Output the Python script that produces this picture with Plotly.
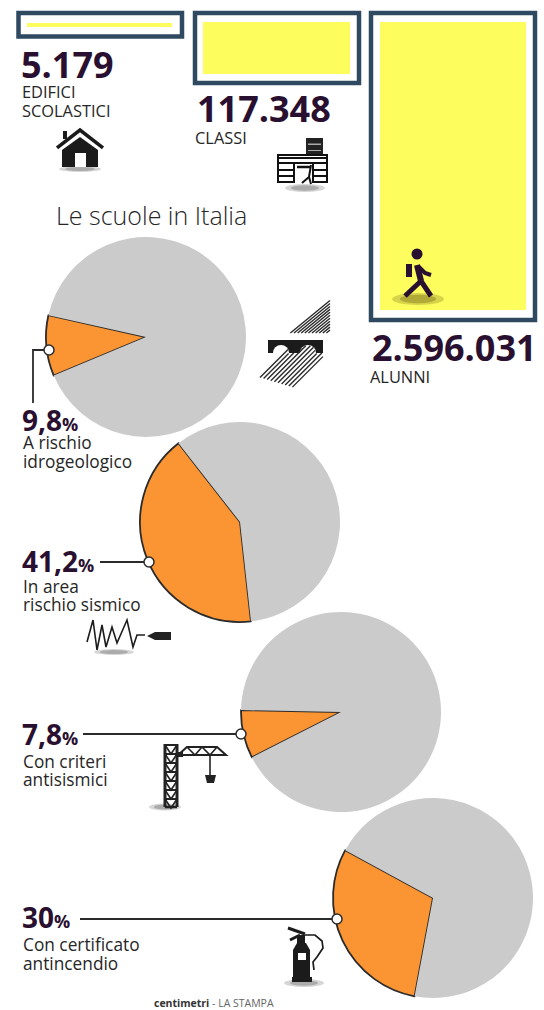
import plotly.graph_objects as go

# ---- data ----
total_labels = ["5.179", "117.348", "2.596.031"]
total_values = [5179, 117348, 2596031]
total_names = [["EDIFICI", "SCOLASTICI"], ["CLASSI"], ["ALUNNI"]]

share_labels = ["9,8", "41,2", "7,8", "30"]
share_values = [9.8, 41.2, 7.8, 30.0]
share_rest = [90.2, 58.8, 92.2, 70.0]
share_names = [["A rischio", "idrogeologico"], ["In area", "rischio sismico"],
               ["Con criteri", "antisismici"], ["Con certificato", "antincendio"]]

W, H = 544, 1010
INK = "#2a1030"
TXT = "#262626"
LINE = "#2b2b2b"
ORANGE = "#fb9433"
GREY = "#cbcbcb"
YELLOW = "#fdfd5e"
FRAME = "#2f4a60"
DARK = "#1b1b1b"
FONT = "Open Sans"


def px(x):
    return x / W


def py(y):
    return 1 - y / H


fig = go.Figure()
shapes = []
notes = []


def text(x, y, s, size, color=TXT, weight=400, family=FONT):
    notes.append(dict(x=px(x), y=py(y), xref="paper", yref="paper", text=s, showarrow=False,
                      xanchor="left", yanchor="middle", align="left", borderpad=0,
                      font=dict(size=size, color=color, family=family, weight=weight)))


def poly(points, fill=None, color=None, width=0, closed=True):
    d = "M " + " L ".join(f"{px(x):.5f} {py(y):.5f}" for x, y in points)
    if closed:
        d += " Z"
    shapes.append(dict(type="path", xref="paper", yref="paper", path=d, layer="above",
                       fillcolor=fill if fill else "rgba(0,0,0,0)",
                       line=dict(color=color if color else "rgba(0,0,0,0)", width=width)))


def rect(x0, y0, x1, y1, fill=None, color=None, width=0):
    shapes.append(dict(type="rect", xref="paper", yref="paper", layer="above",
                       x0=px(x0), x1=px(x1), y0=py(y0), y1=py(y1),
                       fillcolor=fill if fill else "rgba(0,0,0,0)",
                       line=dict(color=color if color else "rgba(0,0,0,0)", width=width)))


def ellipse(cx, cy, rx, ry, fill=None, color=None, width=0):
    shapes.append(dict(type="circle", xref="paper", yref="paper", layer="above",
                       x0=px(cx - rx), x1=px(cx + rx), y0=py(cy - ry), y1=py(cy + ry),
                       fillcolor=fill if fill else "rgba(0,0,0,0)",
                       line=dict(color=color if color else "rgba(0,0,0,0)", width=width)))


def shadow(cx, cy, rx, ry, rgb="120,120,120"):
    ellipse(cx, cy, rx, ry, fill=f"rgba({rgb},0.30)")
    ellipse(cx, cy, rx * 0.7, ry * 0.7, fill=f"rgba({rgb},0.45)")


# ---- framed totals: one small bar panel per quantity ----
frames = [(18.5, 13, 182, 36.5), (195, 13, 359, 83), (371, 13, 535, 320)]
fills = [(27, 22.5, 172, 27), (203, 22, 350, 74), (380, 22, 526, 310)]
for i, (val, box) in enumerate(zip(total_values, fills)):
    sfx = "" if i == 0 else str(i + 1)
    fig.add_trace(go.Bar(x=[total_labels[i]], y=[val], width=[1], marker=dict(color=YELLOW, line=dict(width=0)),
                         xaxis="x" + sfx, yaxis="y" + sfx, showlegend=False, hoverinfo="skip"))
    fig.update_layout({
        "xaxis" + sfx: dict(domain=[px(box[0]), px(box[2])], visible=False, anchor="y" + sfx),
        "yaxis" + sfx: dict(domain=[py(box[3]), py(box[1])], visible=False, range=[0, val], anchor="x" + sfx),
    })
for f in frames:
    rect(*f, color=FRAME, width=4.5)

# ---- pies ----
centers = [(146, 337), (240, 522), (341, 712), (433, 898)]
rotations = [247.3, 173.7, 243.0, 190.6]
R = 100
for (cx, cy), rot, a, b in zip(centers, rotations, share_values, share_rest):
    fig.add_trace(go.Pie(values=[a, b], sort=False, direction="clockwise", rotation=rot,
                         domain=dict(x=[px(cx - R), px(cx + R)], y=[py(cy + R), py(cy - R)]),
                         marker=dict(colors=[ORANGE, GREY], line=dict(color=[LINE, "rgba(0,0,0,0)"], width=[1.8, 0])),
                         textinfo="none", hoverinfo="skip", showlegend=False))

# ---- callout leaders and dots ----
poly([(33, 403), (33, 350), (47, 350)], color=LINE, width=1.8, closed=False)
poly([(100, 562), (147, 562)], color=LINE, width=1.8, closed=False)
poly([(83, 734), (238, 734)], color=LINE, width=1.8, closed=False)
poly([(80, 919), (334, 919)], color=LINE, width=1.8, closed=False)
for c in [(49, 350), (149, 562), (241, 734), (337, 919)]:
    ellipse(c[0], c[1], 5, 5, fill="white", color=LINE, width=1.5)

# ---- texts ----
text(20, 64, f"<b>{total_labels[0]}</b>", 36, INK, 700)
text(196, 109, f"<b>{total_labels[1]}</b>", 36, INK, 700)
text(371, 347, f"<b>{total_labels[2]}</b>", 36, INK, 700)
text(20.5, 92, total_names[0][0], 16.4)
text(20.5, 111, total_names[0][1], 16.4)
text(193.5, 137, total_names[1][0], 16.4)
text(368.5, 376, total_names[2][0], 16.4)
text(55, 215, "Le scuole in Italia", 25, TXT, 300)

pct_y = [420, 561, 734, 917]
name_y = [(443, 462), (586, 604), (761, 779), (944, 963)]
for lab, y, names, ny in zip(share_labels, pct_y, share_names, name_y):
    text(21, y, f'<b>{lab}</b><span style="font-size:18px"><b>%</b></span>', 28, INK, 700)
    text(21.5, ny[0], names[0], 17.3)
    text(21.5, ny[1], names[1], 17.3)
text(153, 1003, '<b>centimetri</b><span style="color:#666"> - LA STAMPA</span>', 10.5, "#333333")

# ---- pictograms ----
# house
shadow(80, 169, 21, 3)
poly([(62, 150), (80, 137), (98, 150), (98, 167), (62, 167)], fill=DARK)
rect(75, 153, 86, 167, fill="white")
poly([(57, 148), (80, 130), (103, 148)], color=DARK, width=3.5, closed=False)
rect(63, 131, 67, 139, fill=DARK)

# desk with books
shadow(305, 188, 20, 4)
rect(306, 138, 323, 154, fill="#222222")
rect(308, 143.5, 321, 145, fill="#aaaaaa")
rect(308, 150, 321, 151, fill="#aaaaaa")
rect(278, 155, 327, 163, color="#111111", width=2, fill="white")
poly([(278, 158), (327, 158)], color="#111111", width=2, closed=False)
rect(278, 163, 294, 182, color="#111111", width=2, fill="white")
poly([(278, 170), (294, 170)], color="#111111", width=2, closed=False)
poly([(278, 176), (294, 176)], color="#111111", width=2, closed=False)
rect(313, 163, 327, 182, color="#111111", width=2, fill="white")
poly([(313, 170), (327, 170)], color="#111111", width=2, closed=False)
poly([(313, 176), (327, 176)], color="#111111", width=2, closed=False)
poly([(297, 167), (311, 167)], color="#111111", width=2.5, closed=False)
poly([(311, 165), (309, 177), (302, 183)], color="#111111", width=2, closed=False)
poly([(309, 177), (311, 184)], color="#111111", width=2, closed=False)

# walking figure on the yellow panel
shadow(418, 299, 26, 6, "130,120,30")
ellipse(417, 254, 5.5, 5.5, fill=INK)
poly([(417, 265), (421, 281)], color=INK, width=6, closed=False)
poly([(419, 267), (425, 273), (431, 275)], color=INK, width=4, closed=False)
poly([(421, 281), (405, 296)], color=INK, width=5, closed=False)
poly([(421, 281), (431, 296)], color=INK, width=5, closed=False)
rect(406, 264, 412, 277, fill=INK)

# ground fault: hatched blocks under a dark band with two rounded boulders
BOULDERS = [(281, 353), (308, 353)]
BOULDER_R = 8


def in_lower_block(x, y):
    boulder = any((x - bx) ** 2 + (y - by) ** 2 <= BOULDER_R ** 2 for bx, by in BOULDERS)
    return y >= 353 or boulder


rect(268, 340, 323, 353, fill=DARK)
for bx, by in BOULDERS:
    ellipse(bx, by, BOULDER_R, BOULDER_R, fill="white")
for k in range(12):
    h = 3.6 * k
    poly([(330 - h, 333), (330, 333 - h * 0.82)], color="#2a2a2a", width=1.4, closed=False)
for k in range(10):
    x0 = 260 + 3.6 * k
    y0 = 378 + (x0 - 262) * 0.3
    x1, y1 = x0, y0
    for step in range(80):
        xn, yn = x0 + step * 0.5, y0 - step * 0.5
        if xn > 323 or yn < 340:
            break
        if in_lower_block(xn, yn):
            x1, y1 = xn, yn
    poly([(x0, y0), (x1, y1)], color="#2a2a2a", width=1.4, closed=False)

# seismograph trace
shadow(114, 652, 20, 3)
poly([(87, 642), (93, 620), (97, 650), (102, 625), (106, 647), (112, 627), (117, 643),
      (127, 620), (133, 647), (137, 635), (145, 635)], color="#1c1c1c", width=1.6, closed=False)
poly([(147, 636), (155, 632), (171, 632), (171, 640), (155, 640)], fill="#222222")

# crane
shadow(165, 807, 16, 3.5)
poly([(165, 744), (165, 807)], color="#222222", width=3, closed=False)
poly([(177, 744), (177, 807)], color="#222222", width=3, closed=False)
for k in range(7):
    y = 745 + 9 * k
    poly([(165, y), (177, y)], color="#222222", width=2, closed=False)
    poly([(165, y), (171, y + 9), (177, y)], color="#222222", width=1.6, closed=False)
poly([(165, 807), (177, 807)], color="#222222", width=2.5, closed=False)
poly([(178, 755), (226, 755), (217, 747), (187, 747)], color="#222222", width=2, closed=True)
poly([(187, 747), (195, 755), (202, 747), (210, 755), (217, 747)], color="#222222", width=1.6, closed=False)
rect(178, 752, 183, 757, fill="#222222")
poly([(210, 755), (210, 776)], color="#222222", width=1.6, closed=False)
poly([(205, 775), (216, 775), (214, 783), (207, 783)], fill="#222222")

# fire extinguisher
shadow(304, 983, 20, 4)
poly([(293, 950), (297, 943), (306, 943), (310, 950), (310, 977), (293, 977)], fill=DARK)
rect(292, 977, 312, 982, fill=DARK)
rect(297, 935, 305, 943, fill=DARK)
rect(298, 953, 306, 960, fill="white")
poly([(288, 928), (305, 934)], color=DARK, width=3, closed=False)
poly([(290, 940), (300, 935)], color=DARK, width=3, closed=False)
poly([(305, 935), (315, 935), (322, 941), (323, 948), (317, 957), (313, 962), (314, 970)],
     color=DARK, width=1.7, closed=False)

fig.update_layout(width=W, height=H, margin=dict(l=0, r=0, t=0, b=0), paper_bgcolor="white",
                  plot_bgcolor="rgba(0,0,0,0)", shapes=shapes, annotations=notes, bargap=0,
                  showlegend=False)
fig.write_html("out.html", config=dict(displayModeBar=False))
